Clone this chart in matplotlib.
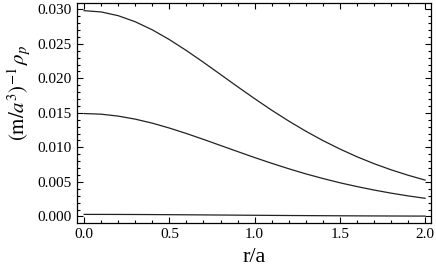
import matplotlib
matplotlib.use("Agg")
import matplotlib.pyplot as plt
from matplotlib.ticker import MultipleLocator, FormatStrFormatter

r = [0.0, 0.1, 0.2, 0.3, 0.4, 0.5, 0.6, 0.7, 0.8, 0.9, 1.0,
     1.1, 1.2, 1.3, 1.4, 1.5, 1.6, 1.7, 1.8, 1.9, 2.0]
top = [0.0298, 0.02961, 0.02907, 0.02819, 0.02702, 0.02561, 0.02402, 0.02232,
       0.02056, 0.01879, 0.01706, 0.01539, 0.01382, 0.01235, 0.01100, 0.00977,
       0.00865, 0.00765, 0.00676, 0.00597, 0.00527]
middle = [0.0149, 0.01481, 0.01453, 0.01409, 0.01351, 0.01280, 0.01201, 0.01116,
          0.01028, 0.00940, 0.00853, 0.00770, 0.00691, 0.00617, 0.00550, 0.00488,
          0.00433, 0.00383, 0.00338, 0.00298, 0.00263]
bottom = [0.00030, 0.000298, 0.000293, 0.000284, 0.000272, 0.000258, 0.000242,
          0.000225, 0.000207, 0.000189, 0.000172, 0.000155, 0.000139, 0.000124,
          0.000111, 0.000098, 0.000087, 0.000077, 0.000068, 0.000060, 0.000053]

plt.rcParams['font.family'] = ['Liberation Serif', 'DejaVu Serif']
plt.rcParams['mathtext.fontset'] = 'stix'

fig = plt.figure(figsize=(4.36, 2.78), dpi=100)
ax = fig.add_axes([0.1766, 0.199, 0.812, 0.790])

for y in (top, middle, bottom):
    ax.plot(r, y, color='#222222', lw=0.9)

ax.set_xlim(-0.042, 2.035)
ax.set_ylim(-0.0009, 0.0309)
ax.xaxis.set_major_locator(MultipleLocator(0.5))
ax.xaxis.set_minor_locator(MultipleLocator(0.1))
ax.yaxis.set_major_locator(MultipleLocator(0.005))
ax.yaxis.set_minor_locator(MultipleLocator(0.001))
ax.xaxis.set_major_formatter(FormatStrFormatter('%.1f'))
ax.yaxis.set_major_formatter(FormatStrFormatter('%.3f'))
ax.tick_params(which='both', direction='in', top=True, right=True, labelsize=11, width=0.8)
ax.tick_params(which='major', length=4, pad=4)
ax.tick_params(which='minor', length=2)
for s in ax.spines.values():
    s.set_linewidth(0.9)

ax.set_xlabel('r/a', fontsize=16, labelpad=5)
ax.set_ylabel(r'$(\mathrm{m}/a^3)^{-1}\,\rho_p$', fontsize=15)
ax.yaxis.set_label_coords(-0.125, 0.59)

fig.savefig('out.png', dpi=100)
